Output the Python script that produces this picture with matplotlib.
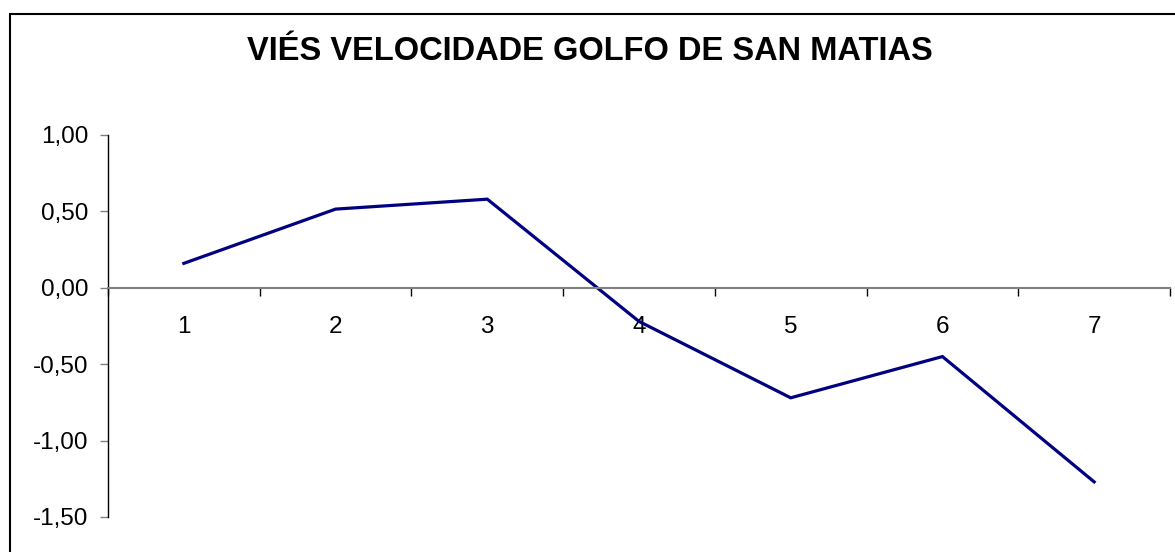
import matplotlib
matplotlib.use("Agg")
from matplotlib import pyplot as plt
from matplotlib.patches import Rectangle
from matplotlib.ticker import FixedLocator, FuncFormatter

# data
categories = [1, 2, 3, 4, 5, 6, 7]
values = [0.16, 0.515, 0.58, -0.22, -0.72, -0.45, -1.27]
y_ticks = [-1.5, -1.0, -0.5, 0.0, 0.5, 1.0]

plt.rcParams['font.family'] = ['Liberation Sans', 'DejaVu Sans']

W, H = 1175, 552
fig = plt.figure(figsize=(W / 100, H / 100), dpi=100)
ax = fig.add_axes([108 / W, 1 - 517 / H, (1170 - 108) / W, (517 - 135) / H])

ax.plot(categories, values, color='#000080', linewidth=2.3, solid_joinstyle='miter')

ax.set_xlim(0.5, 7.5)
ax.set_ylim(-1.5, 1.0)

for s in ['top', 'right']:
    ax.spines[s].set_visible(False)
ax.spines['left'].set_color('black')
ax.spines['left'].set_linewidth(1.0)
ax.spines['bottom'].set_position(('data', 0))
ax.spines['bottom'].set_color('#808080')
ax.spines['bottom'].set_linewidth(1.5)

ax.yaxis.set_major_locator(FixedLocator(y_ticks))
ax.yaxis.set_major_formatter(FuncFormatter(lambda v, p: f"{v:.2f}".replace('.', ',')))
ax.tick_params(axis='y', direction='out', length=6, width=1, color='#808080',
               pad=8, labelsize=17.5)

# labels at category centres, tick marks between categories
ax.set_xticks(categories)
ax.set_xticklabels([str(c) for c in categories])
ax.set_xticks([c - 0.5 for c in categories] + [7.5], minor=True)
ax.tick_params(axis='x', which='major', length=0, pad=20, labelsize=17.5)
ax.tick_params(axis='x', which='minor', direction='out', length=6, width=1, color='black')

fig.text(590 / W, 1 - 52 / H, 'VIÉS VELOCIDADE GOLFO DE SAN MATIAS',
         ha='center', va='center', fontsize=23.5, fontweight='bold')

# chart frame
fig.patches.append(Rectangle((9.5 / W, -0.1), 2, 1.1 - 13.5 / H, transform=fig.transFigure,
                             fill=False, edgecolor='black', linewidth=1.5))

fig.savefig('out.png', dpi=100)
